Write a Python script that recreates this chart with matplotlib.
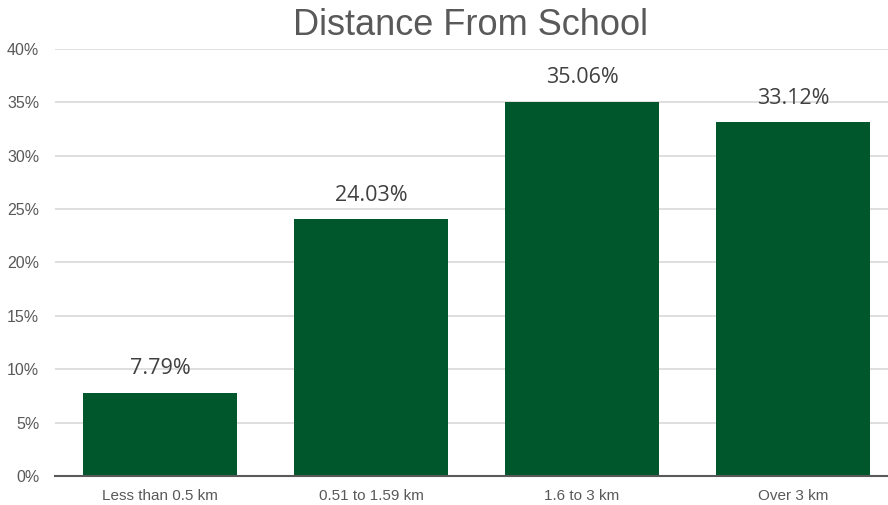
import matplotlib
matplotlib.use("Agg")
from matplotlib import pyplot as plt
from matplotlib.ticker import FuncFormatter

categories = ["Less than 0.5 km", "0.51 to 1.59 km", "1.6 to 3 km", "Over 3 km"]
values = [7.79, 24.03, 35.06, 33.12]
labels = ["7.79%", "24.03%", "35.06%", "33.12%"]

fig = plt.figure(figsize=(8.88, 5.05), dpi=100)
# plot area runs a bit past the right edge like the original
ax = fig.add_axes([54.5 / 888, 0.0574, 844 / 888, 0.8456])

x = range(len(categories))
bars = ax.bar(x, values, width=0.73, color="#00572C", zorder=3)

for b, lab in zip(bars, labels):
    ax.annotate(lab, (b.get_x() + b.get_width() / 2, b.get_height()),
                xytext=(0, 10), textcoords="offset points",
                ha="center", va="bottom", fontsize=15.5, color="#404040",
                family=["Open Sans", "DejaVu Sans"])

ax.set_xlim(-0.5, 3.5)
ax.set_ylim(0, 40)
ax.set_yticks(range(0, 41, 5))
ax.yaxis.set_major_formatter(FuncFormatter(lambda v, p: "%d%%" % v))
ax.set_xticks(list(x))
ax.set_xticklabels(categories)
ax.grid(axis="y", color="#D9D9D9", linewidth=1.2, zorder=0)
for s in ["top", "right", "left"]:
    ax.spines[s].set_visible(False)
ax.spines["bottom"].set_color("#595959")
ax.spines["bottom"].set_linewidth(1.5)
ax.spines["bottom"].set_zorder(4)
ax.tick_params(axis="y", length=0, labelsize=11.5, labelcolor="#595959", pad=11)
ax.tick_params(axis="x", length=0, labelsize=11, labelcolor="#595959", pad=9)
for t in ax.get_xticklabels() + ax.get_yticklabels():
    t.set_family("Liberation Sans")

fig.text(470 / 888, 0.95, "Distance From School", ha="center", va="center",
         fontsize=26, color="#595959", family="Liberation Sans")

fig.savefig("out.png", dpi=100)
